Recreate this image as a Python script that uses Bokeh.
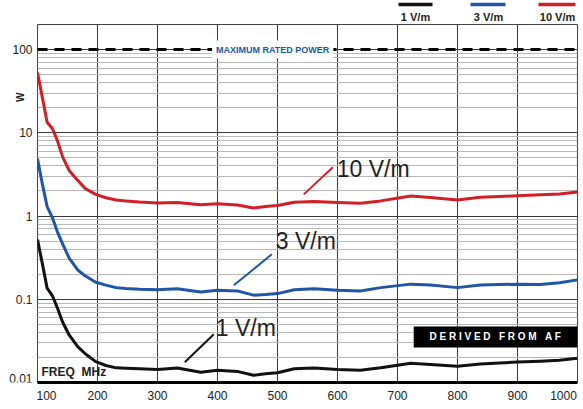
import math
from bokeh.plotting import figure
from bokeh.models import (Range1d, FixedTicker, CustomJSTickFormatter, Label,
                          BoxAnnotation, Span, Grid)
from bokeh.layouts import column, row
from bokeh.embed import file_html
from bokeh.resources import INLINE
from bokeh.core.properties import value

# ---------------- data ----------------
freq_mhz = [100, 108, 116, 125, 133, 142, 153, 167, 180, 197, 214, 231, 247, 270,
            300, 333, 372, 400, 433, 460, 480, 500, 528, 561, 600, 638, 672, 722,
            755, 800, 838, 870, 900, 938, 970, 1000]

w_1vm = [0.52, 0.27, 0.136, 0.11, 0.079, 0.053, 0.037, 0.027, 0.022, 0.0178, 0.016,
         0.0150, 0.0148, 0.0146, 0.0143, 0.0149, 0.0133, 0.0140, 0.0136, 0.0122,
         0.0127, 0.0131, 0.0146, 0.0149, 0.0143, 0.0140, 0.0150, 0.0170, 0.0165,
         0.0157, 0.0167, 0.0172, 0.0176, 0.0180, 0.0185, 0.0195]

w_3vm = [4.87, 2.44, 1.3, 0.95, 0.65, 0.46, 0.31, 0.225, 0.19, 0.16, 0.148, 0.138,
         0.135, 0.132, 0.130, 0.134, 0.122, 0.128, 0.126, 0.112, 0.114, 0.117,
         0.130, 0.134, 0.128, 0.126, 0.138, 0.152, 0.148, 0.138, 0.148, 0.150,
         0.152, 0.150, 0.158, 0.171]

w_10vm = [53, 26.8, 13.4, 11.2, 8.1, 5.1, 3.5, 2.68, 2.13, 1.82, 1.66, 1.56, 1.52,
          1.47, 1.43, 1.45, 1.37, 1.40, 1.36, 1.25, 1.30, 1.34, 1.46, 1.49, 1.45,
          1.42, 1.52, 1.74, 1.67, 1.56, 1.68, 1.72, 1.75, 1.80, 1.84, 1.95]

series_names = ["1 V/m", "3 V/m", "10 V/m"]
series_values = [w_1vm, w_3vm, w_10vm]
series_colors = ["#111111", "#1f56a6", "#d11f26"]

x_ticks = [100, 200, 300, 400, 500, 600, 700, 800, 900, 1000]
x_tick_labels = ["100", "200", "300", "400", "500", "600", "700", "800", "900", "1000"]
y_ticks = [0.01, 0.1, 1, 10, 100]
y_tick_labels = ["0.01", "0.1", "1", "10", "100"]
max_rated_power = 100

FONT_NAME = "Liberation Sans"
FONT = value(FONT_NAME)
TXT = "#222222"
NB = "\u00a0"      # non-breaking space

# ---------------- geometry ----------------
W_TOTAL, H_TOTAL = 583, 409
LEG_H = 23
LEFT_W = 36
MAIN_H = H_TOTAL - LEG_H
B_TOP, B_BOTTOM, B_RIGHT = 1, 27, 6

# ---------------- legend strip (top) ----------------
leg = figure(width=W_TOTAL, height=LEG_H, x_range=Range1d(0, W_TOTAL), y_range=Range1d(LEG_H, 0),
             toolbar_location=None, output_backend="svg", min_border=0,
             x_axis_location=None, y_axis_location=None, outline_line_color=None,
             background_fill_color="white", border_fill_color="white")
for g in leg.grid:
    g.visible = False
leg_x0 = [398, 470, 538]
leg_x1 = [432, 505, 575]
leg_cx = [415, 488, 557]
leg.segment(x0=leg_x0, y0=[4] * 3, x1=leg_x1, y1=[4] * 3,
            line_color=series_colors, line_width=3.5)
leg.text(x=leg_cx, y=[16.5] * 3, text=series_names, text_align="center",
         text_baseline="middle", text_font=FONT, text_font_size="11px",
         text_font_style="bold", text_color=TXT)

# ---------------- main chart ----------------
p = figure(width=W_TOTAL - LEFT_W, height=MAIN_H, x_range=Range1d(100, 1000),
           y_range=Range1d(0.01, 200), y_axis_type="log", y_axis_location=None,
           toolbar_location=None, output_backend="svg",
           min_border_left=1, min_border_right=B_RIGHT, min_border_top=B_TOP,
           min_border_bottom=B_BOTTOM, background_fill_color="white",
           border_fill_color="white", outline_line_color="#444444",
           outline_line_width=1)

for g in p.ygrid:
    g.visible = False
minor = [m * 10.0 ** e for e in range(-2, 2) for m in range(2, 10)]
p.add_layout(Grid(dimension=1, ticker=FixedTicker(ticks=y_ticks, minor_ticks=minor),
                  grid_line_color="#3a3a3a", grid_line_width=1,
                  minor_grid_line_color="#b8b8b8", minor_grid_line_width=1))

# the last label gets a little trailing padding (labels are kept inside the canvas)
p.xaxis.ticker = FixedTicker(ticks=x_ticks)
p.xaxis.formatter = CustomJSTickFormatter(
    args=dict(t=x_ticks, l=x_tick_labels, post=NB * 2),
    code="""const i = t.indexOf(tick);
if (i < 0) return '';
if (i == t.length - 1) return l[i] + post;
return l[i];""")
p.xaxis.major_tick_out = 0
p.xaxis.major_tick_in = 0
p.xaxis.minor_tick_out = 0
p.xaxis.minor_tick_in = 0
p.xaxis.major_label_text_font = FONT_NAME
p.xaxis.major_label_text_font_size = "12px"
p.xaxis.major_label_text_color = TXT
p.xaxis.axis_line_color = "black"
p.xaxis.axis_line_width = 3
p.xaxis.major_label_standoff = 6

p.xgrid.grid_line_color = "#3a3a3a"
p.xgrid.grid_line_width = 1

# maximum rated power line
p.add_layout(Span(location=max_rated_power, dimension="width", line_color="black",
                  line_width=3, line_dash="10 7"))
p.add_layout(Label(x=492, y=max_rated_power, text="MAXIMUM RATED POWER",
                   text_align="center", text_baseline="middle", text_font=FONT_NAME,
                   text_font_size="9px", text_font_style="bold", text_color="#1f56a6",
                   background_fill_color="white", padding=4))

# derived from AF box
p.add_layout(BoxAnnotation(left=727, right=1000, bottom=0.0264, top=0.0472,
                           fill_color="black", fill_alpha=1.0, line_color=None))
p.add_layout(Label(x=863, y=0.0353,
                   text="D E R I V E D" + NB * 3 + "F R O M" + NB * 3 + "A F",
                   text_align="center", text_baseline="middle", text_font=FONT_NAME,
                   text_font_size="10px", text_font_style="bold", text_color="white"))

# curves
for vals, col in zip(series_values, series_colors):
    p.line(freq_mhz, vals, line_color=col, line_width=3, line_join="round")

# curve annotations with leaders
ann_leader = [((345.5, 0.0175), (393.8, 0.0379)),
              ((427.2, 0.147), (490.5, 0.347)),
              ((543.8, 1.82), (592.2, 3.85))]
ann_text_pos = [(397.2, 0.0447), (497.2, 0.497), (598.8, 3.64)]
for (a, b), (tx, ty), name, col in zip(ann_leader, ann_text_pos, series_names, series_colors):
    p.segment(x0=[a[0]], y0=[a[1]], x1=[b[0]], y1=[b[1]], line_color=col, line_width=2)
    p.add_layout(Label(x=tx, y=ty, text=name, text_align="left", text_baseline="middle",
                       text_font=FONT_NAME, text_font_size="23px", text_color=TXT))

p.add_layout(Label(x=100, y=0.01, x_offset=4, y_offset=4, text="FREQ" + NB * 2 + "MHz",
                   text_align="left", text_baseline="bottom", text_font=FONT_NAME,
                   text_font_size="12px", text_font_style="bold", text_color=TXT))

# ---------------- left strip: y tick labels and unit, on the shared log y scale ----------------
ys = figure(width=LEFT_W, height=MAIN_H, x_range=Range1d(0, LEFT_W), y_range=p.y_range,
            y_axis_type="log", x_axis_location=None, y_axis_location=None,
            toolbar_location=None, output_backend="svg",
            min_border_left=0, min_border_right=0, min_border_top=B_TOP,
            min_border_bottom=B_BOTTOM, outline_line_color=None,
            background_fill_color="white", border_fill_color="white")
for g in ys.grid:
    g.visible = False
ys.text(x=[LEFT_W - 4] * (len(y_ticks) - 1), y=y_ticks[1:], text=y_tick_labels[1:],
        text_align="right", text_baseline="middle", text_font=FONT,
        text_font_size="12px", text_color=TXT)
ys.text(x=[LEFT_W - 4], y=y_ticks[:1], text=y_tick_labels[:1],
        text_align="right", text_baseline="bottom", text_font=FONT,
        text_font_size="12px", text_color=TXT)
ys.text(x=[20], y=[26.7], text=["W"], angle=math.pi / 2, text_align="center",
        text_baseline="middle", text_font=FONT, text_font_size="10px",
        text_font_style="bold", text_color=TXT)

layout = column(leg, row(ys, p, spacing=0), spacing=0)
open("out.html", "w").write(file_html(layout, INLINE))
